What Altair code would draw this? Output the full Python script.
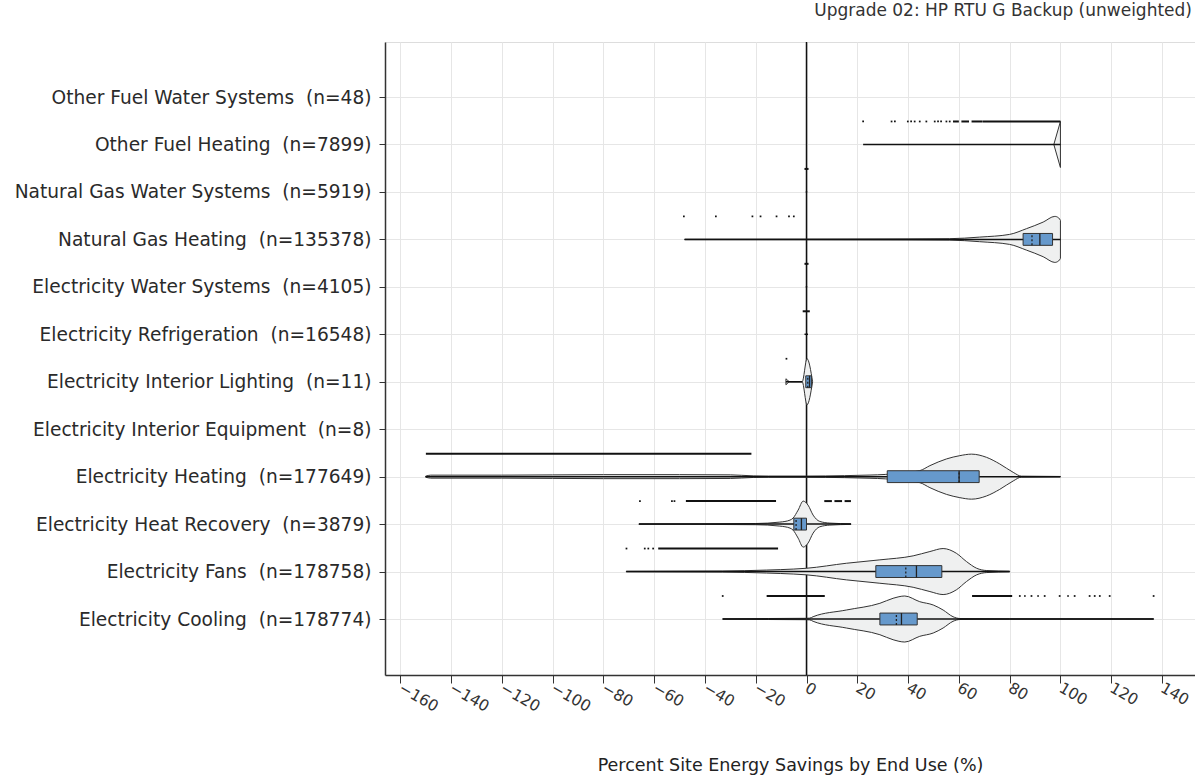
import altair as alt
import pandas as pd

FONT = "DejaVu Sans"

CATEGORIES = [
    "Electricity Cooling", "Electricity Fans", "Electricity Heat Recovery",
    "Electricity Heating", "Electricity Interior Equipment", "Electricity Interior Lighting",
    "Electricity Refrigeration", "Electricity Water Systems", "Natural Gas Heating",
    "Natural Gas Water Systems", "Other Fuel Heating", "Other Fuel Water Systems",
]
N_COUNTS = [178774, 178758, 3879, 177649, 8, 11, 16548, 4105, 135378, 5919, 7899, 48]

# whisker extents (min, max) per category index
WHISKERS = {
    0: (-33, 136.7), 1: (-71, 80), 2: (-66, 17.5), 3: (-150, 100),
    5: (-8.1, -1.7), 6: (-0.8, 0.6), 7: (-0.3, 0.3), 8: (-48, 100),
    9: (-0.3, 0.3), 10: (22.3, 100),
}

# box stats: q1, q3, median, mean
BOXES = {
    0: (28.9, 43.6, 37.4, 35.4),
    1: (27.3, 53.3, 43.3, 39.1),
    2: (-5.0, 0.0, -2.0, -4.1),
    3: (31.8, 68.0, 60.1, 60.1),
    5: (-0.3, 2.0, 1.2, 0.5),
    8: (85.3, 96.9, 91.9, 88.8),
}

# violin profiles: value positions and relative density (23 = widest)
VIOLIN_X = {
    0: [-33, -15, 0, 1.3, 2.6, 15.7, 28.9, 34.1, 38.7, 44.6, 49.9, 53.8, 57.7, 60.4, 80, 136.7],
    1: [-71, -33, -15.7, -5, 0, 15.7, 28.9, 42, 48.6, 53.8, 59, 63, 67, 71, 80],
    2: [-66, -40, -20, -10.5, -6.5, -5.3, -3.3, -1.3, 0.6, 2.6, 5.2, 9.2, 17.5],
    3: [-150, -148, -120, -80, -50, -30, -21, -15, 0, 15, 25, 31, 38, 44.6, 48.6, 55.1,
        60.4, 65, 70.9, 76.1, 81.4, 84.6, 100],
    5: [-8.1, -6.3, -1.7, 0.2, 2.4],
    8: [-48, 0, 40, 56.4, 68.2, 80, 86.6, 93.2, 97.8, 99.3, 100],
    10: [97.4, 100],
}
VIOLIN_D = {
    0: [0.3, 0.5, 0.7, 0.9, 2.3, 9, 15.7, 20.7, 23, 17.3, 14, 9, 2.3, 0.5, 0.3, 0.2],
    1: [0.2, 0.5, 1.5, 2.5, 3.3, 8.3, 11.7, 15.7, 20, 23, 18.3, 10, 3.3, 1, 0.3],
    2: [0.2, 0.3, 0.6, 2, 4, 6, 14, 23, 19, 9, 2.7, 1, 0.3],
    3: [0.5, 1.5, 1.5, 2, 2, 1.8, 0.8, 0.6, 0.6, 1.0, 1.6, 2.2, 4, 6, 11, 17.7,
        21, 22.5, 19.3, 12.7, 4.3, 0.5, 0.2],
    5: [3, 0, 0, 23, 0],
    8: [0.2, 0.3, 0.5, 0.7, 2.3, 5, 10.7, 17.3, 23, 21.5, 19],
    10: [0, 23],
}

# strip of individual points drawn above each violin
STRIP_DOTS = {
    0: [-33, 84, 86, 88.6, 91.2, 93.8, 99.7, 103, 105.6, 111.5, 113.5, 115.5, 119.4, 136.7],
    1: [-70.9, -63.7, -62.3, -60.4],
    2: [-65.6, -53, -52],
    5: [-7.9],
    8: [-48.3, -35.7, -21.3, -18.1, -11.8, -6.9, -5],
    10: [22.3, 33.5, 34.8, 39.9, 41.2, 42.6, 44.6, 47.2, 50.5, 51.8, 53, 55.1, 56.4],
}
STRIP_RUNS = {
    0: [(-15.7, 7.2), (65.2, 81)],
    1: [(-58.4, -11.2)],
    2: [(-47.5, -12), (7, 10), (11, 14), (15, 17.5)],
    3: [(-149.9, -21.7)],
    6: [(-1.5, 1.3)],
    7: [(-0.8, 0.8)],
    9: [(-0.8, 0.8)],
    10: [(57.7, 60), (61, 64), (65, 69.4), (69.5, 100)],
}

X_TICKS = list(range(-160, 141, 20))

HALF = 0.485   # widest violin half-width in category units
BOXH = 0.125   # box half-height

labels = [f"{c} \u00a0(n={n})" for c, n in zip(CATEGORIES, N_COUNTS)]

# ---- build tables ----
viol_rows = []
for k, xs in VIOLIN_X.items():
    for xv, d in zip(xs, VIOLIN_D[k]):
        viol_rows.append({"cat": k, "x": xv, "y": k + d / 23 * HALF, "y2": k - d / 23 * HALF})
viol = pd.DataFrame(viol_rows)

whisk = pd.DataFrame([{"cat": k, "lo": a, "hi": b} for k, (a, b) in WHISKERS.items()])
box = pd.DataFrame([{"cat": k, "q1": q1, "q3": q3, "med": m, "mean": mu}
                    for k, (q1, q3, m, mu) in BOXES.items()])
dots = pd.DataFrame([{"cat": k, "x": v} for k, vs in STRIP_DOTS.items() for v in vs])
runs = pd.DataFrame([{"cat": k, "lo": a, "hi": b} for k, rs in STRIP_RUNS.items() for a, b in rs])

label_js = "[" + ",".join("'" + s + "'" for s in labels) + "]"

xscale = alt.Scale(domain=[-166, 153], nice=False, zero=False)
yscale = alt.Scale(domain=[-1.18, 12.16], nice=False, zero=False)

x_axis = alt.Axis(
    values=X_TICKS, title="Percent Site Energy Savings by End Use (%)",
    labelAngle=30, labelAlign="left", labelBaseline="top", labelFontSize=15.5,
    labelFont=FONT, labelColor="#333", labelPadding=-3, labelOffset=3,
    tickSize=8, tickColor="#333", domainColor="#333", domainWidth=1.5,
    gridColor="#e6e6e6", titleFont=FONT, titleFontSize=17.5, titleFontWeight="normal",
    titleColor="#222", titlePadding=42,
)
y_axis = alt.Axis(
    values=list(range(12)), labelExpr=f"{label_js}[datum.value]", title=None,
    labelFontSize=18.6, labelFont=FONT, labelColor="#2a2a2a", labelPadding=8,
    labelLimit=500,
    tickSize=6, tickColor="#333", domainColor="#333", domainWidth=1.5,
    gridColor="#e6e6e6",
)

base_grid = alt.Chart(pd.DataFrame({"x": [0], "y": [0]})).mark_point(opacity=0).encode(
    x=alt.X("x:Q", scale=xscale, axis=x_axis),
    y=alt.Y("y:Q", scale=yscale, axis=y_axis),
)

zero_line = alt.Chart(pd.DataFrame({"x": [0]})).mark_rule(color="#111", strokeWidth=1.5).encode(
    x=alt.X("x:Q", scale=xscale)
)

violins = alt.Chart(viol).mark_area(
    orient="vertical", interpolate="monotone", fill="#eff0f0", stroke="#333",
    strokeWidth=1, clip=True
).encode(
    x=alt.X("x:Q", scale=xscale),
    y=alt.Y("y:Q", scale=yscale),
    y2="y2:Q",
    detail="cat:N",
)

whiskers = alt.Chart(whisk).mark_rule(color="#111", strokeWidth=1.5, clip=True).encode(
    x=alt.X("lo:Q", scale=xscale), x2="hi:Q", y=alt.Y("cat:Q", scale=yscale)
)

boxes = alt.Chart(box).transform_calculate(
    b0=f"datum.cat - {BOXH}", b1=f"datum.cat + {BOXH}"
).mark_bar(fill="#6699cc", stroke="#333", strokeWidth=1).encode(
    x=alt.X("q1:Q", scale=xscale), x2="q3:Q",
    y=alt.Y("b0:Q", scale=yscale), y2="b1:Q",
)

medians = alt.Chart(box).transform_calculate(
    b0=f"datum.cat - {BOXH}", b1=f"datum.cat + {BOXH}"
).mark_rule(color="#222", strokeWidth=1.3).encode(
    x=alt.X("med:Q", scale=xscale), y=alt.Y("b0:Q", scale=yscale), y2="b1:Q"
)

means = alt.Chart(box).transform_calculate(
    b0=f"datum.cat - {BOXH}", b1=f"datum.cat + {BOXH}"
).mark_rule(color="#222", strokeWidth=1.3, strokeDash=[2, 2]).encode(
    x=alt.X("mean:Q", scale=xscale), y=alt.Y("b0:Q", scale=yscale), y2="b1:Q"
)

strip_dots = alt.Chart(dots).transform_calculate(
    yy=f"datum.cat + {HALF}"
).mark_square(size=3, color="#111", opacity=1).encode(
    x=alt.X("x:Q", scale=xscale), y=alt.Y("yy:Q", scale=yscale)
)

strip_runs = alt.Chart(runs).transform_calculate(
    yy=f"datum.cat + {HALF}"
).mark_rule(color="#111", strokeWidth=2).encode(
    x=alt.X("lo:Q", scale=xscale), x2="hi:Q", y=alt.Y("yy:Q", scale=yscale)
)

chart = alt.layer(
    base_grid, zero_line, violins, whiskers, boxes, medians, means, strip_runs, strip_dots
).properties(
    width=810, height=633,
    title=alt.TitleParams(
        "Upgrade 02: HP RTU G Backup (unweighted)", anchor="end", fontSize=17,
        font=FONT, fontWeight="normal", color="#333", offset=21, dx=-3,
    ),
    autosize=alt.AutoSizeParams(type="none"),
    padding={"left": 385, "top": 42, "right": 0, "bottom": 101},
).configure_view(stroke="#444", strokeWidth=1.5).configure(background="white")

chart.save("out.html", embed_options={"renderer": "svg", "actions": False})
